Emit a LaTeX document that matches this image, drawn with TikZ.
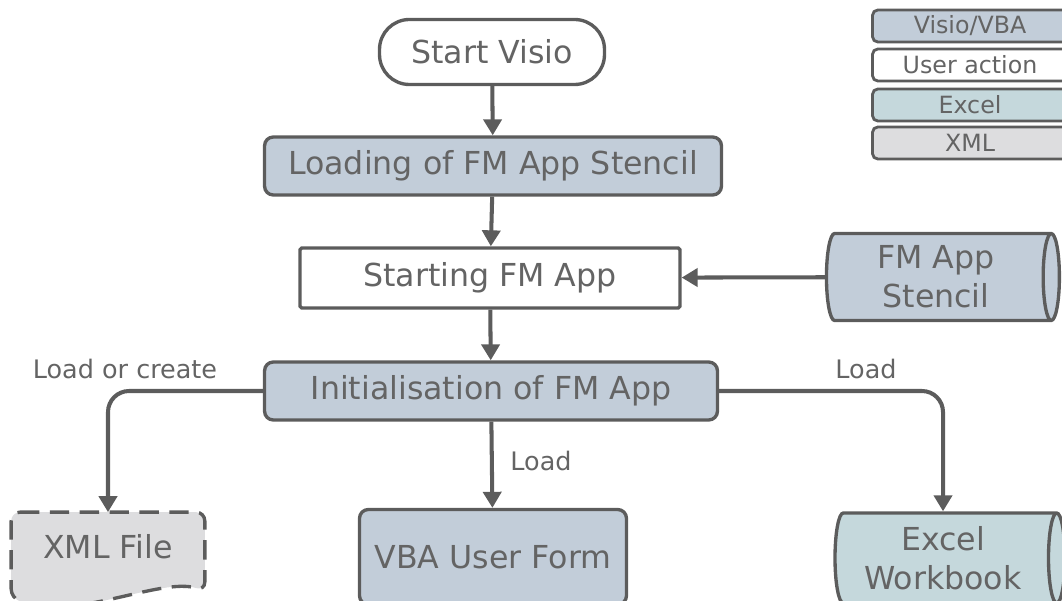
\documentclass[tikz,border=0pt]{standalone}
\usepackage{fontspec}
\setmainfont{DejaVu Sans}
\usetikzlibrary{arrows.meta,shapes.geometric,calc}
\definecolor{slate}{RGB}{194,205,217}
\definecolor{sea}{RGB}{197,216,220}
\definecolor{mist}{RGB}{221,221,223}
\definecolor{ink}{RGB}{92,92,92}
\definecolor{txt}{RGB}{100,100,100}
\tikzset{
  >={Triangle[length=3.2mm,width=3.6mm]},
  stepbox/.style={draw=ink,fill=#1,line width=1.9pt,rounded corners=5pt,
    text=txt,font=\fontsize{18}{21}\selectfont,align=center},
  stepbox/.default=slate,
  pill/.style={stepbox=white,rounded corners=17pt},
  store/.style={cylinder,shape aspect=0.22,draw=ink,fill=#1,line width=1.9pt,
    text=txt,font=\fontsize{18}{22}\selectfont,align=center},
  store/.default=slate,
  flow/.style={->,line width=2.3pt,draw=ink,rounded corners=12pt},
  tag/.style={text=txt,font=\fontsize{14.5}{17}\selectfont},
  key/.style={draw=ink,fill=#1,line width=1.6pt,rounded corners=3pt,
    minimum width=3.9cm,minimum height=0.64cm,inner sep=0pt,
    text=txt,font=\fontsize{13.5}{16}\selectfont},
}
\begin{document}
\begin{tikzpicture}[x=0.02cm,y=-0.02cm]
  \useasboundingbox (0,0) rectangle (1062,601);
  % main chain
  \node[pill,minimum width=4.5cm,minimum height=1.3cm] (visio) at (492,52) {Start Visio};
  \node[stepbox,minimum width=9.14cm,minimum height=1.16cm] (load) at (493,166) {Loading of FM App Stencil};
  \node[stepbox=white,rounded corners=1pt,minimum width=7.6cm,minimum height=1.2cm] (start) at (490,278) {Starting FM App};
  \node[stepbox,minimum width=9.06cm,minimum height=1.16cm] (init) at (491,391) {Initialisation of FM App};
  \node[store,minimum width=1.74cm,minimum height=4.66cm] (stencil) at (936,277) {FM App\\Stencil};
  % targets
  \node[stepbox,minimum width=5.34cm,minimum height=1.9cm] (form) at (493,557) {VBA User Form};
  \node[store=sea,minimum width=1.8cm,minimum height=4.6cm] (excel) at (943,558) {Excel\\Workbook};
  \node[minimum width=3.86cm,minimum height=1.7cm] (xml) at (108,555) {};
  \fill[mist,rounded corners=5pt] (xml.north west) -- (xml.north east) -- ([yshift=4pt]xml.south east)
    .. controls ($(xml.south)+(30pt,12pt)$) and ($(xml.south)+(-20pt,-14pt)$) .. (xml.south west) -- cycle;
  \draw[ink,line width=1.9pt,dash pattern=on 11pt off 6pt,rounded corners=5pt]
    (xml.north west) -- (xml.north east) -- ([yshift=4pt]xml.south east)
    .. controls ($(xml.south)+(30pt,12pt)$) and ($(xml.south)+(-20pt,-14pt)$) .. (xml.south west) -- cycle;
  \node[text=txt,font=\fontsize{18}{21}\selectfont] (xmltext) at (108,547) {XML File};
  % connectors
  \draw[flow] (visio) -- (load);
  \draw[flow] (load) -- (start);
  \draw[flow] (start) -- (init);
  \draw[flow] (stencil) -- (start);
  \draw[flow] (init) -- (form);
  \draw[flow] (init.west) -| (xml.north);
  \draw[flow] (init.east) -| (excel.north);
  \node[tag] (t1) at (125,369) {Load or create};
  \node[tag] (t2) at (541,461) {Load};
  \node[tag] (t3) at (866,369) {Load};
  % legend
  \node[key=slate] (k1) at (970,26) {Visio/VBA};
  \node[key=white] (k2) at (970,65) {User action};
  \node[key=sea] (k3) at (970,105) {Excel};
  \node[key=mist] (k4) at (970,143) {XML};
\end{tikzpicture}
\end{document}
